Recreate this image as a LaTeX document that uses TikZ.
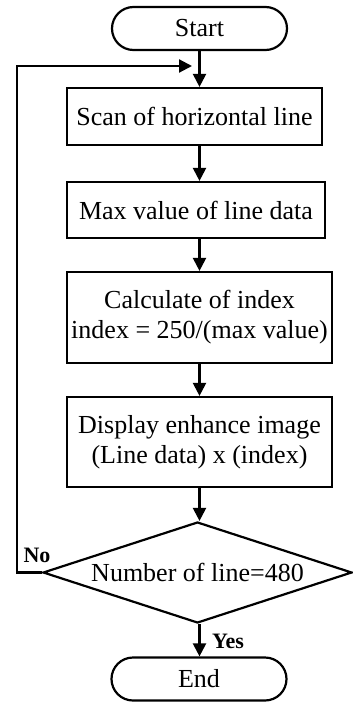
\documentclass[tikz,border=0pt]{standalone}
\usepackage{fontspec}
\setmainfont{Liberation Serif}
\usetikzlibrary{arrows.meta,shapes.geometric,shapes.misc}

\begin{document}
\begin{tikzpicture}[x=0.5pt,y=-0.5pt,
    box/.style={draw, line width=1.1pt, inner sep=0pt, align=center, font=\fontsize{13}{15}\selectfont},
    term/.style={box, rounded rectangle, minimum width=87.5pt, minimum height=21.5pt},
    decide/.style={box, diamond, aspect=3.06, minimum width=154.5pt, minimum height=50.5pt},
    arrow/.style={line width=1.1pt, -{Triangle[length=6.5pt,width=6.5pt]}},
    tag/.style={font=\fontsize{11}{13}\selectfont\bfseries}]

    % Canvas
    \useasboundingbox (0,0) rectangle (353,702);

    % Terminals
    \node[term] (start) at (199.5,28.5) {Start};
    \node[term] (stop) at (199,679) {End};

    % Process boxes
    \node[box, minimum width=127.5pt, minimum height=28.5pt] (scan) at (194.5,116.5) {Scan of horizontal line};
    \node[box, minimum width=129pt, minimum height=28pt] (maxval) at (196,210) {Max value of line data};
    \node[box, minimum width=132.5pt, minimum height=45.5pt] (calc) at (199.5,317.5) {Calculate of index\\index = 250/(max value)};
    \node[box, minimum width=132.5pt, minimum height=45pt] (disp) at (199.5,442) {Display enhance image\\(Line data) x (index)};

    % Decision
    \node[decide] (check) at (197.5,572.5) {Number of line=480};

    % Branch labels
    \node[tag] (no) at (37,555) {No};
    \node[tag] (yes) at (228,641) {Yes};

    % Main flow
    \foreach \a/\b in {start/scan, scan/maxval, maxval/calc, calc/disp, disp/check, check/stop}
        \draw[arrow] (start.south |- \a.south) -- (start.south |- \b.north);

    % Loop back
    \coordinate (corner) at (17,66);
    \coordinate (loopin) at (192,66);
    \draw[arrow] (check.west) -| (corner) -- (loopin);
\end{tikzpicture}
\end{document}
